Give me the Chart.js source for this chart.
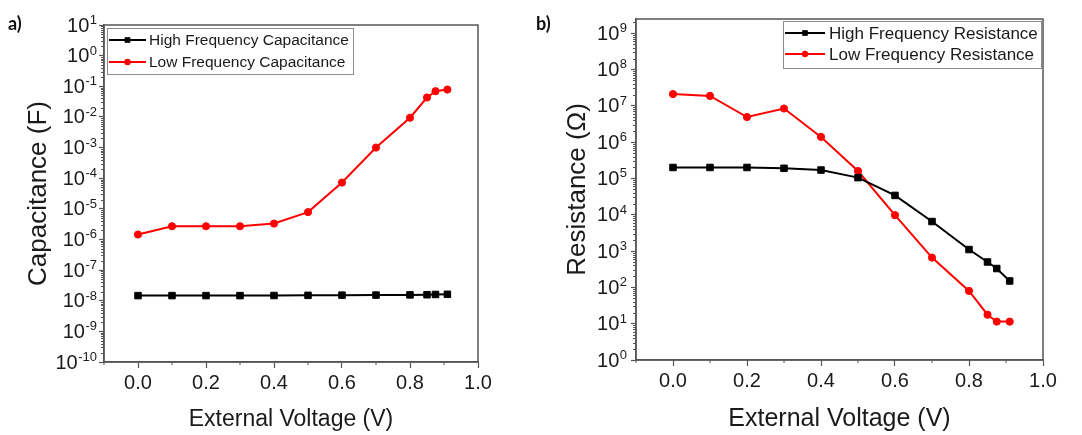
<!DOCTYPE html>
<html>
<head>
<meta charset="utf-8">
<script src="https://cdn.jsdelivr.net/npm/chart.js@4.4.1/dist/chart.umd.min.js"></script>
<style>
  body { margin: 0; background: #fff; }
  #page { position: relative; width: 1082px; height: 435px; overflow: hidden; }
  canvas { position: absolute; top: 0; }
  .panel-label { position: absolute; font: bold 18px Lato, "Liberation Sans", sans-serif; line-height: 18px; color: #111; }
</style>
</head>
<body>
<div id="page">
  <canvas id="capChart" width="540" height="435" style="left:0"></canvas>
  <canvas id="resChart" width="542" height="435" style="left:540px"></canvas>
  <div class="panel-label" style="left:8px; top:14px">a)</div>
  <div class="panel-label" style="left:536px; top:14px">b)</div>
</div>
<script>
// external voltage (V), shared by both panels
const voltage = [0, 0.1, 0.2, 0.3, 0.4, 0.5, 0.6, 0.7, 0.8, 0.85, 0.875, 0.91];

// panel a: capacitance (F)
const hfCapacitance = [1.47e-8, 1.47e-8, 1.47e-8, 1.47e-8, 1.48e-8, 1.5e-8, 1.52e-8, 1.53e-8, 1.55e-8, 1.57e-8, 1.6e-8, 1.62e-8];
const lfCapacitance = [1.45e-6, 2.7e-6, 2.7e-6, 2.7e-6, 3.3e-6, 7.8e-6, 7.2e-5, 1.0e-3, 9.4e-3, 0.043, 0.069, 0.078];

// panel b: resistance (ohm)
const hfResistance = [2.0e5, 2.0e5, 2.0e5, 1.9e5, 1.7e5, 1.05e5, 3.4e4, 6.5e3, 1.1e3, 500, 330, 150];
const lfResistance = [2.1e7, 1.87e7, 4.9e6, 8.4e6, 1.39e6, 1.6e5, 9.7e3, 660, 80, 17.7, 11.4, 11.4];

// ticks
const xTickValues = [0, 0.2, 0.4, 0.6, 0.8, 1.0];
const xMinorValues = [-0.1, 0.1, 0.3, 0.5, 0.7, 0.9];
const capExponents = [-10, -9, -8, -7, -6, -5, -4, -3, -2, -1, 0, 1];
const resExponents = [0, 1, 2, 3, 4, 5, 6, 7, 8, 9];

const AXIS_COLOR = '#555';
const TEXT_COLOR = '#1a1a1a';
const FONT = '"Liberation Sans", Arial, sans-serif';

function minorLogValues(exps, max) {
  const out = [];
  exps.forEach((e) => {
    for (let k = 2; k <= 9; k++) {
      const v = k * Math.pow(10, e);
      if (v < max) out.push(v);
    }
  });
  return out;
}

// frame, minor ticks, superscript y labels and the boxed legend
const panelDecor = {
  id: 'panelDecor',
  afterDraw(chart, args, opts) {
    const { ctx, chartArea: a, scales: { x, y } } = chart;
    ctx.save();
    ctx.strokeStyle = AXIS_COLOR;
    ctx.lineWidth = 1.5;
    ctx.strokeRect(a.left, a.top, a.right - a.left, a.bottom - a.top);

    ctx.lineWidth = 1;
    ctx.beginPath();
    xMinorValues.forEach((v) => {
      const px = x.getPixelForValue(v);
      ctx.moveTo(px, a.bottom);
      ctx.lineTo(px, a.bottom + 3);
    });
    minorLogValues(opts.exps, y.max).forEach((v) => {
      const py = Math.round(y.getPixelForValue(v)) + 0.5;
      ctx.moveTo(a.left - 3, py);
      ctx.lineTo(a.left, py);
    });
    ctx.stroke();

    ctx.fillStyle = TEXT_COLOR;
    const right = a.left - opts.labelGap;
    opts.exps.forEach((e) => {
      const py = y.getPixelForValue(Math.pow(10, e));
      ctx.font = '13px ' + FONT;
      ctx.textAlign = 'right';
      ctx.textBaseline = 'alphabetic';
      const expW = ctx.measureText(String(e)).width;
      ctx.fillText(String(e), right, py - 1);
      ctx.font = '20px ' + FONT;
      ctx.textBaseline = 'middle';
      ctx.fillText('10', right - expW - 0.5, py + 1);
    });

    const lg = opts.legend;
    ctx.strokeStyle = '#8c8c8c';
    ctx.lineWidth = 1;
    ctx.strokeRect(lg.x + 0.5, lg.y + 0.5, lg.w, lg.h);
    chart.data.datasets.forEach((ds, i) => {
      const ry = lg.rows[i];
      ctx.strokeStyle = ds.borderColor;
      ctx.lineWidth = 2;
      ctx.beginPath();
      ctx.moveTo(lg.x0, ry);
      ctx.lineTo(lg.x1, ry);
      ctx.stroke();
      ctx.fillStyle = ds.borderColor;
      Chart.helpers.drawPoint(ctx, { pointStyle: ds.pointStyle, radius: ds.pointStyle === 'rect' ? 4 : 3.2, rotation: 0, borderWidth: 0 }, (lg.x0 + lg.x1) / 2, ry);
      ctx.fillStyle = TEXT_COLOR;
      ctx.font = lg.fontSize + 'px ' + FONT;
      ctx.textAlign = 'left';
      ctx.textBaseline = 'middle';
      ctx.fillText(ds.label, lg.textX, ry + 1);
    });
    ctx.restore();
  }
};

function makeDataset(label, data, color, style) {
  return {
    label: label,
    data: voltage.map((v, i) => ({ x: v, y: data[i] })),
    borderColor: color,
    backgroundColor: color,
    pointBackgroundColor: color,
    pointBorderColor: color,
    pointBorderWidth: 1,
    pointStyle: style,
    pointRadius: style === 'rect' ? 4.6 : 3.6,
    borderWidth: 2,
    tension: 0
  };
}

function makeChart(canvasId, p) {
  const ctx = document.getElementById(canvasId).getContext('2d');
  return new Chart(ctx, {
    type: 'line',
    data: { datasets: p.datasets },
    options: {
      responsive: false,
      animation: false,
      events: [],
      layout: { padding: { left: 0, right: p.padRight, top: p.padTop, bottom: 0 } },
      plugins: {
        legend: { display: false },
        tooltip: { enabled: false },
        panelDecor: { exps: p.exps, labelGap: p.labelGap, legend: p.legend }
      },
      scales: {
        x: {
          type: 'linear',
          min: -0.1,
          max: 1.0,
          afterBuildTicks: (axis) => { axis.ticks = xTickValues.map((v) => ({ value: v })); },
          afterFit: (axis) => { axis.height = p.xHeight; },
          ticks: {
            color: TEXT_COLOR,
            font: { family: FONT, size: 20 },
            padding: 3,
            maxRotation: 0,
            callback: (v) => Number(v).toFixed(1)
          },
          grid: { drawOnChartArea: false, drawTicks: true, tickLength: 6, tickColor: AXIS_COLOR, tickWidth: 1.2 },
          border: { color: AXIS_COLOR, width: 1.5 },
          title: {
            display: true,
            text: 'External Voltage (V)',
            color: TEXT_COLOR,
            font: { family: FONT, size: p.xTitleSize },
            padding: { top: 0, bottom: p.xTitlePad }
          }
        },
        y: {
          type: 'logarithmic',
          min: p.yMin,
          max: p.yMax,
          afterBuildTicks: (axis) => { axis.ticks = p.exps.map((e) => ({ value: Math.pow(10, e) })); },
          afterFit: (axis) => { axis.width = p.yWidth; },
          ticks: { display: false },
          grid: { drawOnChartArea: false, drawTicks: true, tickLength: 5, tickColor: AXIS_COLOR, tickWidth: 1.2 },
          border: { color: AXIS_COLOR, width: 1.5 },
          title: {
            display: true,
            text: p.yTitle,
            color: TEXT_COLOR,
            font: { family: FONT, size: 26 },
            padding: { top: p.yTitlePad, bottom: 0 }
          }
        }
      }
    },
    plugins: [panelDecor]
  });
}

makeChart('capChart', {
  datasets: [
    makeDataset('High Frequency Capacitance', hfCapacitance, '#000000', 'rect'),
    makeDataset('Low Frequency Capacitance', lfCapacitance, '#ff0000', 'circle')
  ],
  exps: capExponents,
  yMin: 1e-10,
  yMax: 10,
  yTitle: 'Capacitance (F)',
  yTitlePad: 23,
  yWidth: 104,
  xHeight: 73,
  padRight: 62,
  padTop: 25,
  labelGap: 7,
  xTitleSize: 23,
  xTitlePad: 2,
  legend: { x: 107, y: 28, w: 246, h: 46, rows: [40, 62], x0: 109, x1: 146, textX: 149, fontSize: 15.5 }
});

makeChart('resChart', {
  datasets: [
    makeDataset('High Frequency Resistance', hfResistance, '#000000', 'rect'),
    makeDataset('Low Frequency Resistance', lfResistance, '#ff0000', 'circle')
  ],
  exps: resExponents,
  yMin: 1,
  yMax: 2.45e9,
  yTitle: 'Resistance (\u03A9)',
  yTitlePad: 22,
  yWidth: 96,
  xHeight: 75,
  padRight: 39,
  padTop: 19,
  labelGap: 9,
  xTitleSize: 25,
  xTitlePad: 1,
  legend: { x: 243, y: 21, w: 258, h: 47, rows: [33, 54], x0: 245, x1: 285, textX: 289, fontSize: 17 }
});
</script>
</body>
</html>
